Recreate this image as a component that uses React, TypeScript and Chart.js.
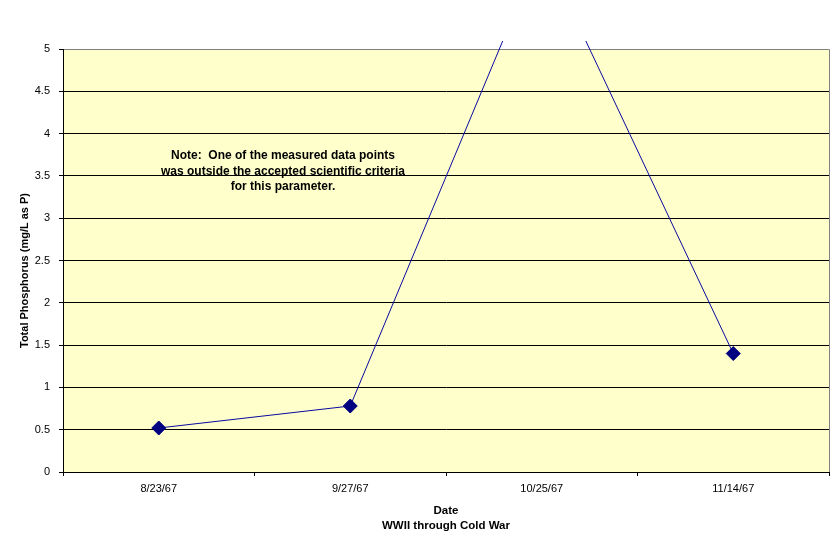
import React, { useEffect, useRef } from "react";
import { Chart, registerables } from "chart.js";

Chart.register(...registerables);

const categories = ["8/23/67", "9/27/67", "10/25/67", "11/14/67"];
const phosphorus = [0.52, 0.78, 6.2, 1.4];
const noteLines = [
  "Note:  One of the measured data points",
  "was outside the accepted scientific criteria",
  "for this parameter.",
];
const yTitle = "Total Phosphorus (mg/L as P)";
const xTitle = ["Date", "WWII through Cold War"];

const FONT = "Arial, 'Liberation Sans', sans-serif";

const plotBgPlugin = {
  id: "plotBg",
  beforeDraw(chart: any) {
    const { ctx, chartArea } = chart;
    ctx.save();
    ctx.fillStyle = "#FFFFCC";
    ctx.fillRect(chartArea.left, chartArea.top, chartArea.right - chartArea.left, chartArea.bottom - chartArea.top);
    ctx.strokeStyle = "#808080";
    ctx.lineWidth = 1;
    ctx.beginPath();
    ctx.moveTo(chartArea.left, Math.round(chartArea.top) + 0.5);
    ctx.lineTo(Math.round(chartArea.right) + 0.5, Math.round(chartArea.top) + 0.5);
    ctx.lineTo(Math.round(chartArea.right) + 0.5, chartArea.bottom);
    ctx.stroke();
    ctx.restore();
  },
  afterDraw(chart: any) {
    const { ctx, chartArea } = chart;
    ctx.save();
    ctx.fillStyle = "#000";
    ctx.font = `bold 12px ${FONT}`;
    ctx.textAlign = "center";
    ctx.textBaseline = "middle";
    const cx = chartArea.left + 220;
    noteLines.forEach((t, i) => {
      ctx.fillText(t, cx, chartArea.top + 107 + i * 15.5);
    });
    // y-axis title
    ctx.font = `bold 11px ${FONT}`;
    ctx.translate(25, (chartArea.top + chartArea.bottom) / 2 + 10);
    ctx.rotate(-Math.PI / 2);
    ctx.fillText(yTitle, 0, 0);
    ctx.restore();
  },
};

export default function App() {
  const ref = useRef<HTMLCanvasElement>(null);
  useEffect(() => {
    document.body.style.margin = "0";
    const canvas = ref.current!;
    const chart = new Chart(canvas, {
      type: "line",
      data: {
        labels: categories,
        datasets: [
          {
            data: phosphorus,
            borderColor: "#0A0AA0",
            borderWidth: 1,
            pointStyle: "rectRot",
            pointRadius: 7,
            pointBackgroundColor: "#000080",
            pointBorderColor: "#000080",
            pointBorderWidth: 1,
            tension: 0,
            clip: { left: 0, top: 8, right: 0, bottom: 0 } as any,
          },
        ],
      },
      options: {
        animation: false,
        responsive: false,
        maintainAspectRatio: false,
        layout: { padding: { top: 49, right: 11, bottom: 0, left: 0 } },
        plugins: { legend: { display: false }, tooltip: { enabled: false } },
        scales: {
          x: {
            type: "category",
            offset: true,
            grid: {
              offset: true,
              drawOnChartArea: false,
              drawTicks: true,
              tickLength: 4,
              color: "#000",
            },
            border: { color: "#000", width: 1 },
            ticks: {
              color: "#000",
              font: { family: FONT, size: 11 },
              padding: 6,
              maxRotation: 0,
              autoSkip: false,
            },
            title: {
              display: true,
              text: xTitle,
              color: "#000",
              font: { family: FONT, size: 11.5, weight: "bold", lineHeight: 1.3 },
              padding: { top: 0, bottom: 10.5 },
            },
            afterFit: (scale: any) => {
              scale.height = 72;
            },
          },
          y: {
            min: 0,
            max: 5,
            ticks: {
              stepSize: 0.5,
              color: "#000",
              font: { family: FONT, size: 11 },
              padding: 9,
              callback: (v: any) => String(v),
            },
            grid: {
              color: (c: any) => (c.tick && c.tick.value === 5 ? "#808080" : "#000"),
              tickLength: 4,
              tickColor: "#000",
            },
            border: { color: "#000", width: 1 },
            title: { display: false },
            afterFit: (scale: any) => {
              scale.width = 63;
            },
          },
        },
      },
      plugins: [plotBgPlugin],
    });
    return () => chart.destroy();
  }, []);
  return <canvas ref={ref} width={840} height={544} style={{ display: "block", width: 840, height: 544 }} />;
}
